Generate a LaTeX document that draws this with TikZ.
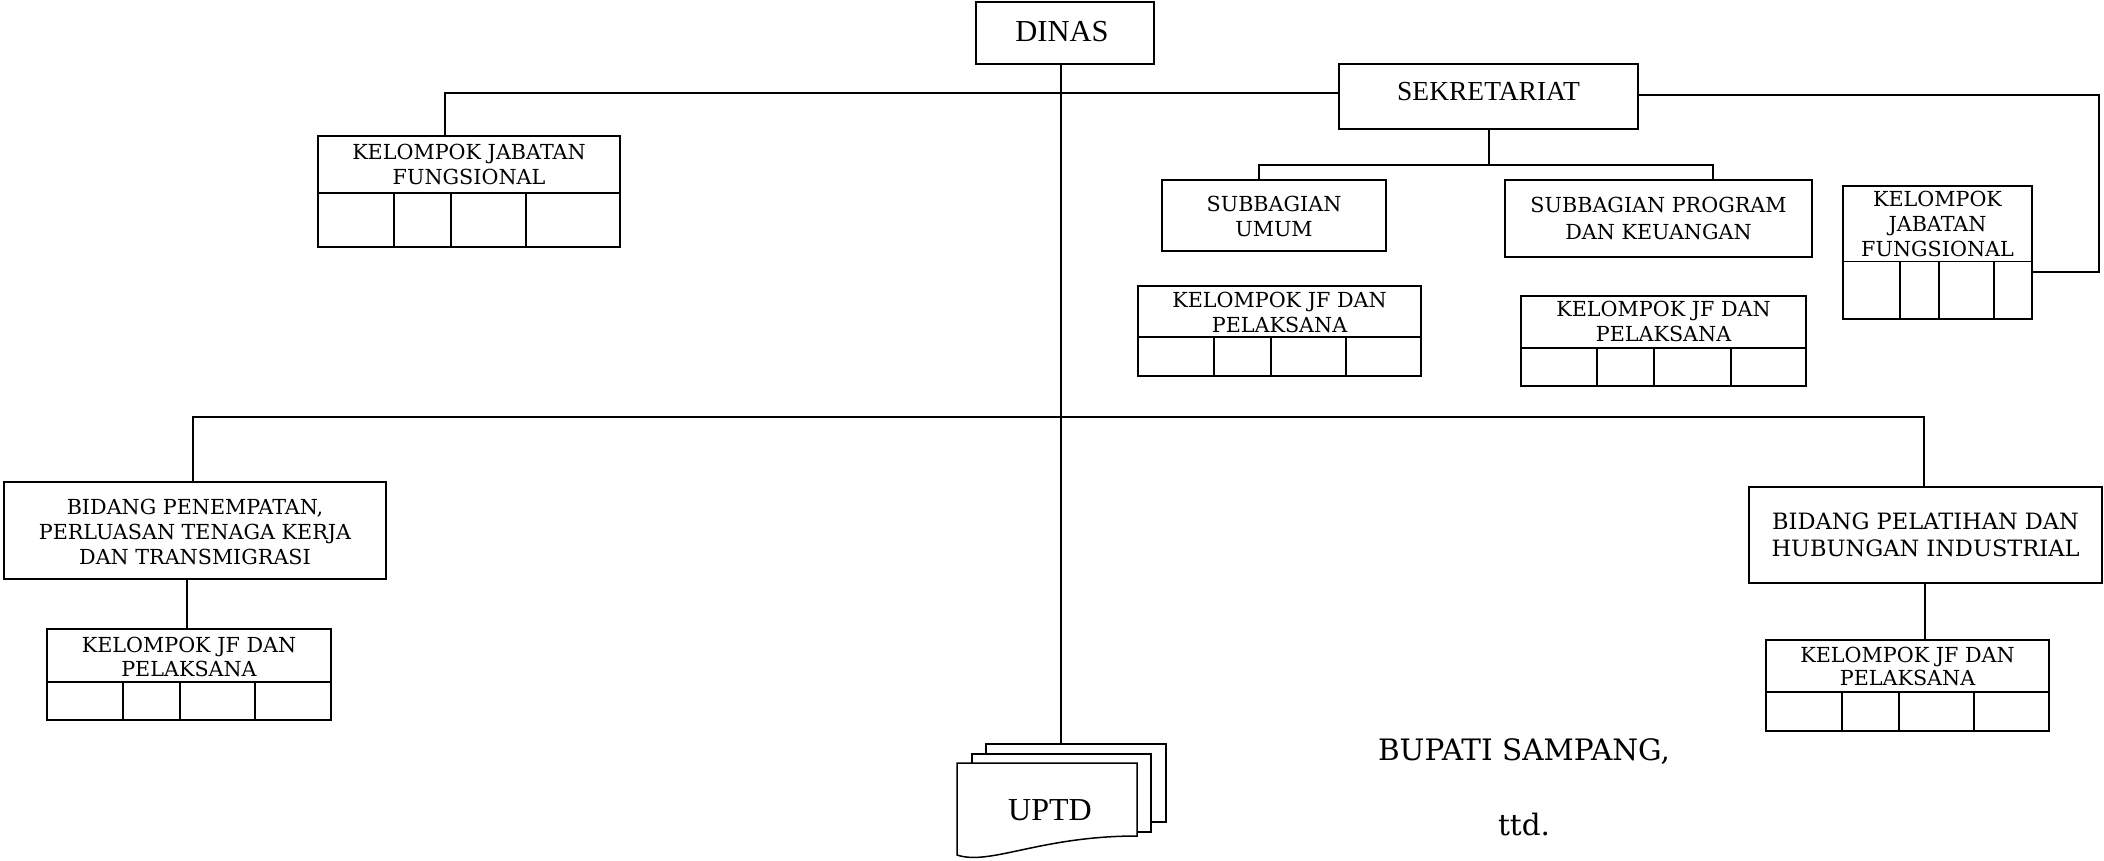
\documentclass[tikz,border=0pt]{standalone}
\usepackage{fontspec}
\setmainfont{DejaVu Serif}
\newfontfamily\tms{Liberation Serif}
\newcommand\kjfbox[9]{%
  \node[kbox,minimum width={#4-#2},minimum height={#5-#3}] (#1) at ({(#2+#4)/2},{(#3+#5)/2}) {};
  \draw[cellline] (#2,#6) -- (#4,#6) (#7,#6) -- (#7,#5) (#8,#6) -- (#8,#5) (#9,#6) -- (#9,#5);
}
\begin{document}
\begin{tikzpicture}[x=1pt,y=-1pt,
  box/.style={draw,line width=1.6pt,inner sep=0pt},
  kbox/.style={draw,line width=2.2pt,inner sep=0pt},
  cellline/.style={line width=1.8pt},
  conn/.style={line width=1.2pt},
  page/.style={draw,fill=white,line width=1.5pt},
  lbl/.style={align=center,inner sep=0pt,font=\fontsize{20.7}{25}\selectfont},
  ttl/.style={align=center,inner sep=0pt,font=\tms\fontsize{30.5}{32}\selectfont},
]
\useasboundingbox (0,0) rectangle (2104,861);

% top boxes
\node[box,minimum width=178,minimum height=62] (dinas) at (1065,33) {};
\node[ttl] at (1062,32) {DINAS};
\node[box,minimum width=299,minimum height=65] (sek) at (1488.5,96.5) {};
\node[ttl,font=\tms\fontsize{27.5}{30}\selectfont] at (1488.5,92) {SEKRETARIAT};
\node[box,minimum width=224,minimum height=71] (su) at (1274,215.5) {};
\node[lbl] at (1274,216.5) {SUBBAGIAN\\UMUM};
\node[box,minimum width=307,minimum height=77] (sp) at (1658.5,218.5) {};
\node[lbl,font=\fontsize{20.7}{27}\selectfont] at (1658.5,218) {SUBBAGIAN PROGRAM\\DAN KEUANGAN};

% kelompok boxes
\kjfbox{kjfa}{318}{136}{620}{247}{193}{394}{451}{526}
\node[lbl] at (469,164) {KELOMPOK JABATAN\\FUNGSIONAL};
\kjfbox{kjfb}{1843}{186}{2032}{319}{261.5}{1900}{1939}{1994}
\node[lbl] at (1937.5,224) {KELOMPOK\\JABATAN\\FUNGSIONAL};
\kjfbox{kjfsu}{1138}{286}{1421}{376}{337}{1214}{1271}{1346}
\node[lbl] at (1279.5,312.5) {KELOMPOK JF DAN\\PELAKSANA};
\kjfbox{kjfsp}{1521}{296}{1806}{386}{348}{1597}{1654}{1731}
\node[lbl] at (1663.5,321.5) {KELOMPOK JF DAN\\PELAKSANA};

% bidang
\node[box,minimum width=382,minimum height=97] (bida) at (195,530.5) {};
\node[lbl] at (195,531.5) {BIDANG PENEMPATAN,\\PERLUASAN TENAGA KERJA\\DAN TRANSMIGRASI};
\kjfbox{kjfc}{47}{629}{331}{720}{682}{123}{180}{255}
\node[lbl,font=\fontsize{20.7}{23.5}\selectfont] at (189,657) {KELOMPOK JF DAN\\PELAKSANA};
\node[box,minimum width=353,minimum height=96] (bidb) at (1925.5,535) {};
\node[lbl,font=\fontsize{22.5}{27}\selectfont] at (1925.5,535) {BIDANG PELATIHAN DAN\\HUBUNGAN INDUSTRIAL};
\kjfbox{kjfd}{1766}{640}{2049}{731}{692}{1842}{1899}{1974}
\node[lbl,font=\fontsize{20.7}{23.5}\selectfont] at (1907.5,666.5) {KELOMPOK JF DAN\\PELAKSANA};

% UPTD
\node[page,minimum width=180,minimum height=78,inner sep=0pt] (uptd) at (1076,783) {};
\draw[page] (972,754) rectangle (1151,832);
\draw[page] (957,763) -- (1137,763) -- (1137,836) .. controls (1040,836) and (990,866) .. (957,855) -- cycle;
\node[ttl,anchor=base,font=\tms\fontsize{32}{34}\selectfont] at (1050,820) {UPTD};

% connectors
\coordinate (trunk) at (1061,0);
\draw[conn] (dinas.south -| trunk) -- (uptd.north -| trunk);
\coordinate (ja) at (445,93);
\draw[conn] (kjfa.north -| ja) -- (ja) -- (ja -| sek.west);
\coordinate (jb) at (2099,95);
\coordinate (jc) at (2099,272);
\draw[conn] (sek.east |- jb) -- (jb) -- (jc) -- (jc -| kjfb.east);
\coordinate (sa) at (1259,165);
\coordinate (sb) at (1713,165);
\coordinate (sc) at (1489,0);
\draw[conn] (sek.south -| sc) -- (sa -| sc);
\draw[conn] (su.north -| sa) -- (sa) -- (sb) -- (sb |- sp.north);
\coordinate (ba) at (193,417);
\coordinate (bb) at (1924,417);
\draw[conn] (bida.north -| ba) -- (ba) -- (bb) -- (bb |- bidb.north);
\coordinate (va) at (187,0);
\draw[conn] (bida.south -| va) -- (kjfc.north -| va);
\coordinate (vb) at (1925,0);
\draw[conn] (bidb.south -| vb) -- (kjfd.north -| vb);

% signature
\node[anchor=base,inner sep=0pt,font=\fontsize{29.5}{30}\selectfont] (bupati) at (1524,760) {BUPATI SAMPANG,};
\node[anchor=base,inner sep=0pt,font=\fontsize{29.5}{30}\selectfont] (ttd) at (1524,835) {ttd.};
\end{tikzpicture}
\end{document}
